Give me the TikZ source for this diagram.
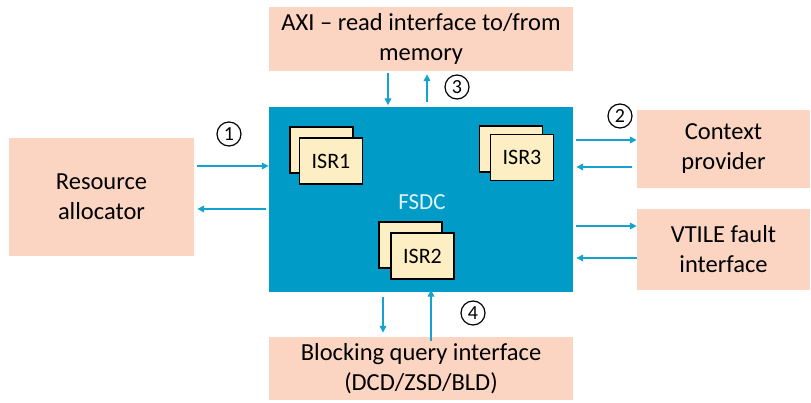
\documentclass[tikz,border=0pt]{standalone}
\usepackage{fontspec}
\setmainfont{Carlito}
\usetikzlibrary{arrows.meta}
\definecolor{salmon}{HTML}{FBD5C2}
\definecolor{fsdcblue}{HTML}{009BC6}
\definecolor{isrfill}{HTML}{FDEFC3}
\definecolor{linkblue}{HTML}{14A3CE}
\begin{document}
\begin{tikzpicture}[x=1pt,y=-1pt,
  iface/.style={fill=salmon,draw=none,align=center,inner sep=0pt,
    font=\fontsize{24.5}{30}\selectfont},
  isrbox/.style={fill=isrfill,draw=black,line width=1.3pt,minimum width=63pt,
    minimum height=46pt,inner sep=0pt,font=\fontsize{22}{26}\selectfont},
  arr/.style={draw=linkblue,line width=1.8pt,-{Triangle[length=7pt,width=6.5pt]}},
  num/.style={circle,draw=black,line width=1.2pt,minimum size=24pt,inner sep=0pt,
    font=\fontsize{20}{22}\selectfont}]
\useasboundingbox (0,0) rectangle (811,403);

% interface blocks
\node[iface,minimum width=304pt,minimum height=64pt] (axi) at (421,39)
  {AXI -- read interface to/from\\memory};
\node[iface,minimum width=185pt,minimum height=118pt] (res) at (101.5,197)
  {Resource\\allocator};
\node[iface,minimum width=173pt,minimum height=78pt] (ctx) at (723.5,149)
  {Context\\provider};
\node[iface,minimum width=173pt,minimum height=81pt] (vtile) at (723.5,249.5)
  {VTILE fault\\interface};
\node[iface,minimum width=304pt,minimum height=63pt] (blk) at (421,368.5)
  {Blocking query interface\\(DCD/ZSD/BLD)};

% central controller
\node[fill=fsdcblue,minimum width=304pt,minimum height=185pt,inner sep=0pt] (fsdc) at (421,200) {};
\node[text=white!88!fsdcblue,font=\fontsize{23}{26}\selectfont] (fsdclbl) at (422,202) {FSDC};

% stacked ISR blocks
\node[isrbox] (isr1b) at (321.5,150) {};
\node[isrbox] (isr1) at (331,161) {ISR1};
\node[isrbox] (isr3b) at (511,149) {};
\node[isrbox] (isr3) at (522,157.5) {ISR3};
\node[isrbox] (isr2b) at (410.5,245) {};
\node[isrbox] (isr2) at (422.5,256) {ISR2};

% memory read interface
\draw[arr] ([xshift=-33pt,yshift=-2pt]axi.south) -- ([xshift=-33pt,yshift=2pt]fsdc.north);
\draw[arr] ([xshift=6pt,yshift=5pt]fsdc.north) -- ([xshift=6pt,yshift=-3pt]axi.south);
\node[num] (n3) at (457,87) {3};

% resource allocator
\coordinate (r1) at ([xshift=3pt,yshift=31pt]res.east);
\coordinate (r2) at ([xshift=3pt,yshift=-12pt]res.east);
\draw[arr] (r1) -- (r1 -| fsdc.west);
\draw[arr] ([xshift=-3pt]r2 -| fsdc.west) -- (r2);
\node[num] (n1) at (229,134) {1};

% context provider
\coordinate (c1) at ([xshift=-61pt,yshift=9pt]ctx.west);
\coordinate (c2) at ([xshift=-5pt,yshift=-18pt]ctx.west);
\draw[arr] (c1) -- (c1 -| ctx.west);
\draw[arr] (c2) -- ([xshift=3pt]c2 -| fsdc.east);
\node[num] (n2) at (620,116) {2};

% VTILE fault interface
\coordinate (v1) at ([xshift=-61pt,yshift=23.5pt]vtile.west);
\coordinate (v2) at ([yshift=-8.5pt]vtile.west);
\draw[arr] (v1) -- (v1 -| vtile.west);
\draw[arr] (v2) -- ([xshift=3pt]v2 -| fsdc.east);

% blocking query interface
\draw[arr] ([xshift=-38pt,yshift=-4pt]fsdc.south) -- ([xshift=-38pt,yshift=4pt]blk.north);
\draw[arr] ([xshift=10pt,yshift=-4pt]blk.north) -- ([xshift=10pt,yshift=3pt]fsdc.south);
\node[num] (n4) at (473,313) {4};
\end{tikzpicture}
\end{document}
